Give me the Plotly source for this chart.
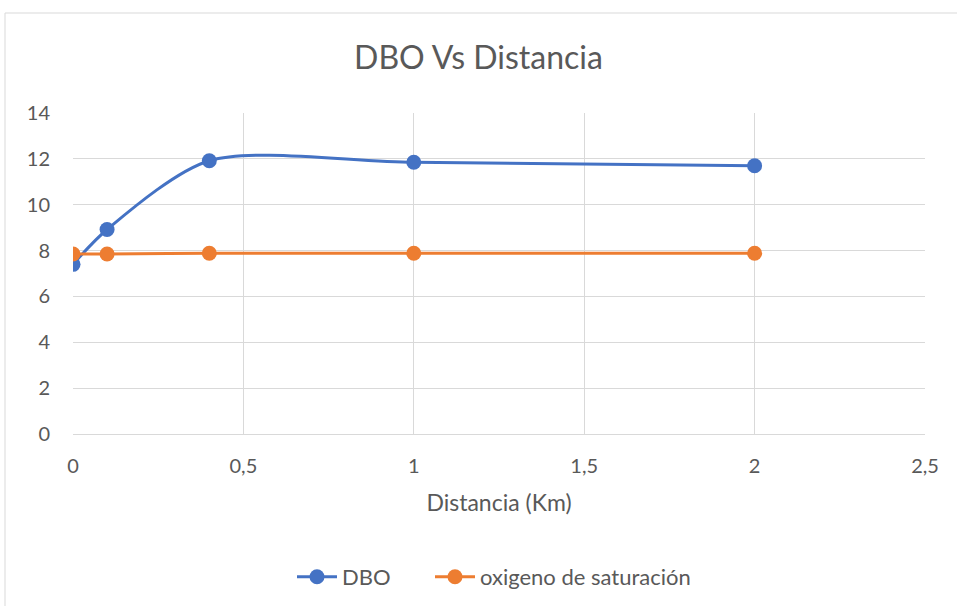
import plotly.graph_objects as go

# Distance along the river (km) and measured values
distancia = [0, 0.1, 0.4, 1, 2]
dbo = [7.4, 8.92, 11.92, 11.85, 11.7]
oxigeno_sat = [7.85, 7.85, 7.88, 7.88, 7.88]

x_ticks = [0, 0.5, 1, 1.5, 2, 2.5]
x_labels = ["0", "0,5", "1", "1,5", "2", "2,5"]
y_ticks = [0, 2, 4, 6, 8, 10, 12, 14]

BLUE = "#4472C4"
ORANGE = "#ED7D31"
GRAY = "#595959"
GRID = "#D9D9D9"
FONT = "Lato, Calibri, sans-serif"

fig = go.Figure()
fig.add_trace(go.Scatter(
    x=distancia, y=dbo, name="DBO", mode="lines+markers",
    line=dict(color=BLUE, width=3, shape="spline", smoothing=0.8),
    marker=dict(color=BLUE, size=15),
    legend="legend", showlegend=True,
))
fig.add_trace(go.Scatter(
    x=distancia, y=oxigeno_sat, name="oxigeno de saturación", mode="lines+markers",
    line=dict(color=ORANGE, width=3, shape="spline", smoothing=0.8),
    marker=dict(color=ORANGE, size=15),
    legend="legend2", showlegend=True,
))

legend_style = dict(orientation="h", xanchor="left", xref="container",
                    y=1 - 577 / 606, yanchor="middle", yref="container",
                    font=dict(size=22, color=GRAY), itemwidth=40,
                    bgcolor="rgba(0,0,0,0)")

fig.update_layout(
    width=957, height=606,
    showlegend=True,
    margin=dict(l=73, r=32, t=113, b=172, autoexpand=False),
    paper_bgcolor="white", plot_bgcolor="white",
    font=dict(family=FONT, color=GRAY, size=20),
    title=dict(text="DBO Vs Distancia", x=0.5, xanchor="center",
               y=1 - 58 / 606, yanchor="middle",
               font=dict(size=32, color=GRAY, family=FONT)),
    xaxis=dict(range=[0, 2.5], tickvals=x_ticks, ticktext=x_labels,
               showgrid=True, gridcolor=GRID, gridwidth=1,
               showline=True, linecolor=GRID, linewidth=1,
               zeroline=False, ticks="", ticklabelstandoff=14,
               tickfont=dict(size=20, color=GRAY),
               title=dict(text="Distancia (Km)", font=dict(size=23, color=GRAY), standoff=18)),
    yaxis=dict(range=[0, 14], tickvals=y_ticks,
               showgrid=True, gridcolor=GRID, gridwidth=1,
               zeroline=False, showline=False, ticks="", ticklabelstandoff=22,
               tickfont=dict(size=20, color=GRAY)),
    legend=dict(x=292 / 957, **legend_style),
    legend2=dict(x=430 / 957, **legend_style),
    shapes=[dict(type="rect", xref="paper", yref="paper",
                 x0=-68 / 852, x1=1.2, y0=-2, y1=(434 - 13) / 321,
                 line=dict(color=GRID, width=1), layer="below")],
)

fig.write_html("out.html")
